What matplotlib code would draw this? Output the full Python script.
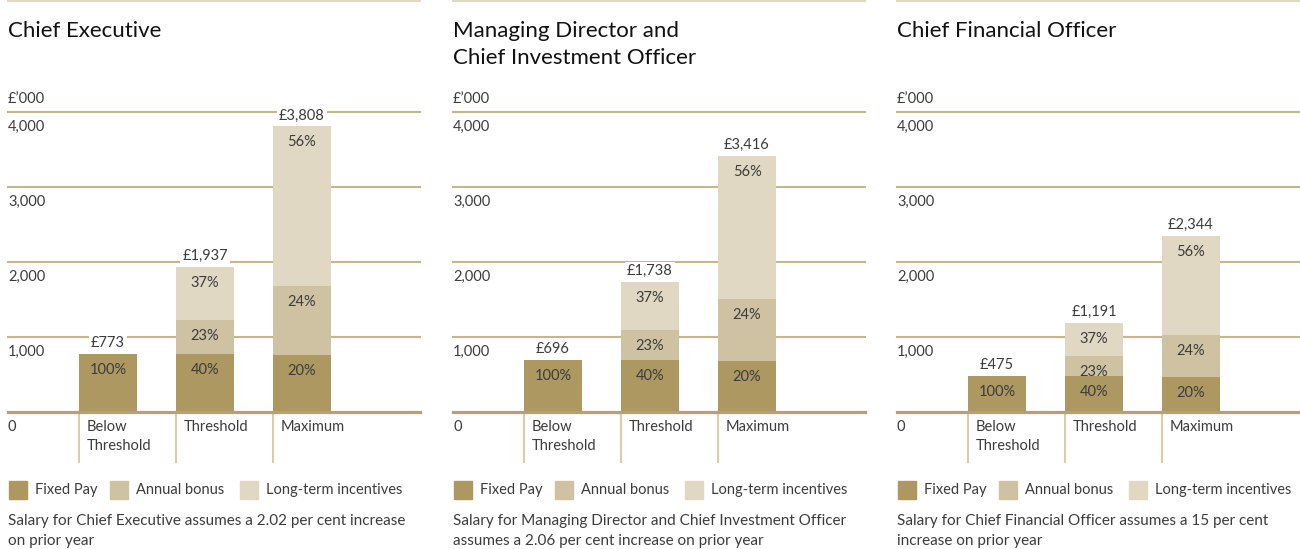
import matplotlib
matplotlib.use("Agg")
import matplotlib.pyplot as plt
from matplotlib.lines import Line2D
from matplotlib.patches import Rectangle

plt.rcParams['font.family'] = ['Lato', 'DejaVu Sans']

W, H = 1300, 549

titles = ["Chief Executive",
          "Managing Director and\nChief Investment Officer",
          "Chief Financial Officer"]
notes = ["Salary for Chief Executive assumes a 2.02 per cent increase\non prior year",
         "Salary for Managing Director and Chief Investment Officer\nassumes a 2.06 per cent increase on prior year",
         "Salary for Chief Financial Officer assumes a 15 per cent\nincrease on prior year"]
scenarios = ["Below\nThreshold", "Threshold", "Maximum"]
totals = [[773, 1937, 3808],
          [696, 1738, 3416],
          [475, 1191, 2344]]
# share of each element per scenario: fixed, bonus, LTI
fixed_pct = [100, 40, 20]
bonus_pct = [0, 23, 24]
lti_pct = [0, 37, 56]
components = ["Fixed Pay", "Annual bonus", "Long-term incentives"]
yticks = [0, 1000, 2000, 3000, 4000]

colors = ["#ad9862", "#cfc2a2", "#e0d8c3"]
grid_col = "#c6b68d"
zero_col = "#b5a273"
div_col = "#d9cdac"
txt = "#3c3c3c"

fig = plt.figure(figsize=(W / 100, H / 100), dpi=100)

panel_x = [8, 453, 897]
pw = 412
spacing = 97
bw = 58 / spacing
first = 71
PX = 4000 / 300  # data units per pixel


def ftext(x, y, s, **kw):
    return fig.text(x / W, 1 - y / H, s, **kw)


for p in range(3):
    x0 = panel_x[p]
    ax = fig.add_axes([x0 / W, (H - 412) / H, pw / W, 300 / H])
    ax.set_xlim(-first / spacing, (pw - first) / spacing)
    ax.set_ylim(0, 4000)
    ax.axis("off")

    # gridlines
    for v in yticks[1:]:
        ax.axhline(v, color=grid_col, lw=1.5, zorder=0, clip_on=False)
    ax.axhline(0, color=zero_col, lw=2.3, zorder=3, clip_on=False)

    for i, tot in enumerate(totals[p]):
        parts = [tot * fixed_pct[i] / 100, tot * bonus_pct[i] / 100, tot * lti_pct[i] / 100]
        pcts = [fixed_pct[i], bonus_pct[i], lti_pct[i]]
        bottom = 0
        for k in range(3):
            if parts[k] <= 0:
                continue
            ax.bar(i, parts[k], width=bw, bottom=bottom, align="edge",
                   color=colors[k], zorder=2)
            ax.annotate(f"{pcts[k]}%", xy=(i + bw / 2, bottom + parts[k]),
                        xytext=(0, -16), textcoords="offset pixels",
                        ha="center", va="center", fontsize=10.5, color=txt,
                        zorder=4)
            bottom += parts[k]
        ax.annotate(f"£{tot:,}", xy=(i + bw / 2, tot), xytext=(0, 11),
                    textcoords="offset pixels", ha="center", va="center",
                    fontsize=10.5, color=txt, zorder=4,
                    bbox=dict(boxstyle="square,pad=0.12", fc="white", ec="none"))
        # category dividers and labels
        ax.plot([i, i], [0, -50 * PX], color=div_col, lw=1.5, clip_on=False, zorder=1)
        ax.annotate(scenarios[i], xy=(i, 0), xytext=(8, -8),
                    textcoords="offset pixels", ha="left", va="top",
                    fontsize=10.5, color=txt, linespacing=1.5)

    # y labels
    for v in yticks:
        ax.annotate(f"{v:,}", xy=(0, v), xycoords=("axes fraction", "data"),
                    xytext=(0, -15), textcoords="offset pixels",
                    ha="left", va="center", fontsize=10.5, color=txt)
    ax.annotate("£’000", xy=(0, 4000), xycoords=("axes fraction", "data"),
                xytext=(0, 13), textcoords="offset pixels",
                ha="left", va="center", fontsize=10.5, color=txt)

    # top rule
    fig.add_artist(Line2D([x0 / W, (x0 + pw) / W], [1 - 1 / H, 1 - 1 / H],
                          color="#e0d8c3", lw=1.5))

    # title
    ftext(x0, 21, titles[p], ha="left", va="top", fontsize=16,
          color="#111111", linespacing=1.45)

    # legend
    lx = [x0 + 1, x0 + 102, x0 + 232]
    for k in range(3):
        fig.add_artist(Rectangle((lx[k] / W, 1 - 499 / H), 18 / W, 18 / H,
                                 color=colors[k], transform=fig.transFigure))
        ftext(lx[k] + 26, 490, components[k], ha="left", va="center",
              fontsize=10.5, color=txt)

    # footnote
    ftext(x0, 514, notes[p], ha="left", va="top", fontsize=11,
          color=txt, linespacing=1.55)

fig.savefig("out.png", dpi=100)
